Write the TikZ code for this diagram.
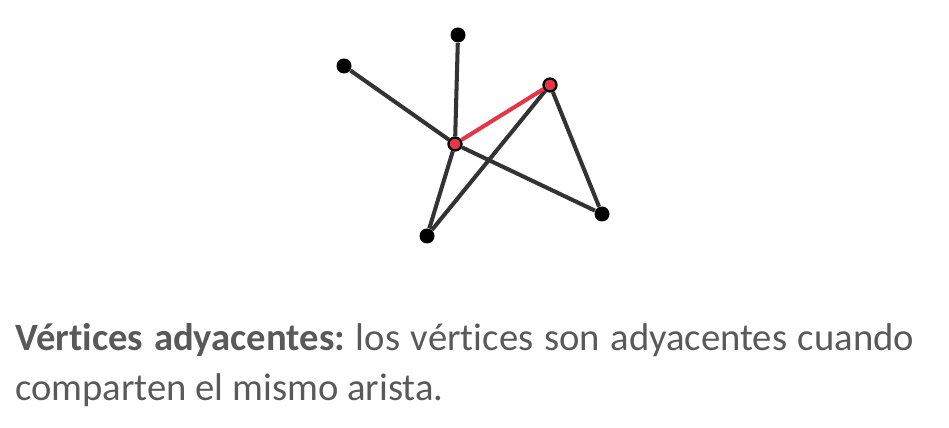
\documentclass[tikz,border=0pt]{standalone}
\usepackage{fontspec}
\setmainfont{Carlito}[Ligatures=NoCommon]
\usepackage{xcolor}
\usepackage{tikz}
\usetikzlibrary{positioning}
\definecolor{edgegray}{RGB}{51, 51, 51}
\definecolor{adjred}{RGB}{230, 52, 72}
\definecolor{textgray}{RGB}{89, 89, 89}

\begin{document}
\begin{tikzpicture}[x=0.02cm, y=-0.02cm,
    vertex/.style={circle, fill=black, inner sep=0pt, minimum size=0.3cm},
    advertex/.style={circle, fill=adjred, draw=black, line width=1.3pt, inner sep=0pt, minimum size=0.26cm},
    edge/.style={draw=edgegray, line width=2.3pt},
    adedge/.style={draw=adjred, line width=2.3pt}]
  \useasboundingbox (0,0) rectangle (949,428);
  \node[vertex] (top) at (458,35) {};
  \node[vertex] (left) at (344,66) {};
  \node[advertex] (right) at (550,85) {};
  \node[advertex] (mid) at (455,144) {};
  \node[vertex] (low) at (602,214) {};
  \node[vertex] (bottom) at (427,236) {};
  \path[edge] (left) -- (mid);
  \path[edge] (top) -- (mid);
  \path[edge] (mid) -- (low);
  \path[edge] (mid) -- (bottom);
  \path[edge] (bottom) -- (right);
  \path[edge] (right) -- (low);
  \path[adedge] (mid) -- (right);
  \node[anchor=base west, inner sep=0pt, text width=17.98cm, align=justify,
        font=\fontsize{22}{28.3}\selectfont, text=textgray] (caption) at (15,351)
    {\hyphenpenalty=10000\relax\frenchspacing\textbf{Vértices adyacentes:} los vértices son adyacentes cuando comparten el mismo arista.};
\end{tikzpicture}
\end{document}
